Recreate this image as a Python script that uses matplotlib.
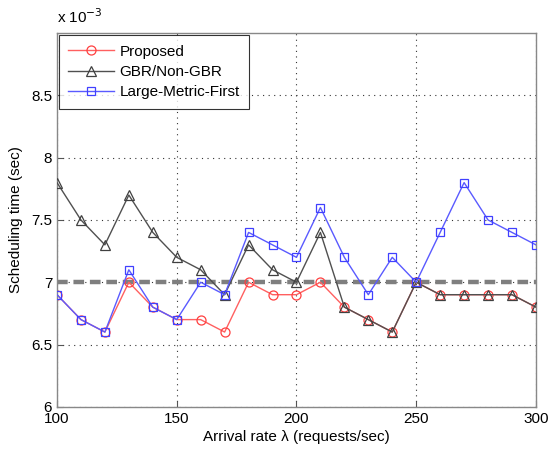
import matplotlib
matplotlib.use("Agg")
import matplotlib.pyplot as plt
import numpy as np

plt.rcParams['font.family'] = ['Liberation Sans', 'DejaVu Sans']

x = [100, 110, 120, 130, 140, 150, 160, 170, 180, 190, 200,
     210, 220, 230, 240, 250, 260, 270, 280, 290, 300]
proposed = [6.9, 6.7, 6.6, 7.0, 6.8, 6.7, 6.7, 6.6, 7.0, 6.9, 6.9,
            7.0, 6.8, 6.7, 6.6, 7.0, 6.9, 6.9, 6.9, 6.9, 6.8]
gbr = [7.8, 7.5, 7.3, 7.7, 7.4, 7.2, 7.1, 6.9, 7.3, 7.1, 7.0,
       7.4, 6.8, 6.7, 6.6, 7.0, 6.9, 6.9, 6.9, 6.9, 6.8]
lmf = [6.9, 6.7, 6.6, 7.1, 6.8, 6.7, 7.0, 6.9, 7.4, 7.3, 7.2,
       7.6, 7.2, 6.9, 7.2, 7.0, 7.4, 7.8, 7.5, 7.4, 7.3]
threshold = 7.0

fig = plt.figure(figsize=(5.48, 4.54), dpi=100)
ax = fig.add_axes([0.104, 0.104, 0.874, 0.823])

ax.axhline(threshold, color='#7f7f7f', lw=3.2, ls=(0, (2.4, 1.3)), zorder=1.8)
ax.plot(x, proposed, color='#ff6060', marker='o', ms=6.5, mfc='none', mec='#ff4040', mew=0.9, lw=1, label='Proposed', zorder=2)
ax.plot(x, gbr, color='#505050', marker='^', ms=7.5, mfc='none', mec='#404040', mew=0.9, lw=1, label='GBR/Non-GBR', zorder=3)
ax.plot(x, lmf, color='#5a5aff', marker='s', ms=6, mfc='none', mec='#4040ff', mew=0.9, lw=1, label='Large-Metric-First', zorder=4)

ax.set_xlim(100, 300)
ax.set_ylim(6.0, 9.0)
ax.set_xticks([100, 150, 200, 250, 300])
ax.set_yticks([6, 6.5, 7, 7.5, 8, 8.5])
ax.set_yticklabels(['6', '6.5', '7', '7.5', '8', '8.5'])
ax.grid(True, color='#333333', ls=(0, (1, 4)), lw=0.8)
ax.tick_params(direction='in', labelsize=11, color='#555555', length=4)
for s in ax.spines.values():
    s.set_color('#888888')
    s.set_linewidth(1.0)

ax.set_xlabel('Arrival rate λ (requests/sec)', fontsize=11, labelpad=3)
ax.set_ylabel('Scheduling time (sec)', fontsize=11, labelpad=6)
ax.text(0.0, 1.02, r'x 10$^{-3}$', transform=ax.transAxes, fontsize=11, ha='left', va='bottom')

leg = ax.legend(loc='upper left', fontsize=11, frameon=True, fancybox=False,
                edgecolor='black', handlelength=3.0, handletextpad=0.35,
                borderpad=0.6, borderaxespad=0.15, labelspacing=0.42)
leg.get_frame().set_linewidth(0.8)

fig.savefig('out.png', dpi=100)
